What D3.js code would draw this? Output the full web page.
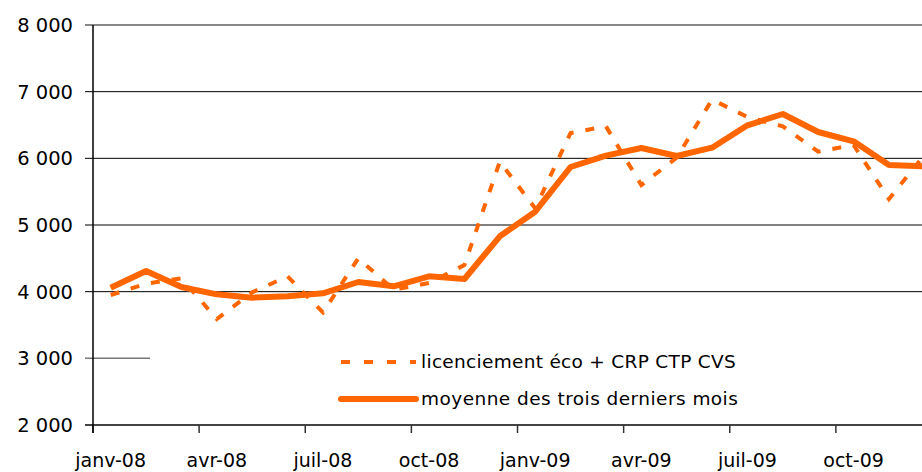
<!DOCTYPE html>
<html>
<head>
<meta charset="utf-8">
<script src="https://cdn.jsdelivr.net/npm/d3@7"></script>
<style>
  body { margin: 0; background: #fff; }
  svg { display: block; font-family: "DejaVu Sans", Verdana, sans-serif; }
</style>
</head>
<body>
<div id="chart"></div>
<script>
// months on the category axis
const months = [
  'janv-08', 'févr-08', 'mars-08', 'avr-08', 'mai-08', 'juin-08',
  'juil-08', 'août-08', 'sept-08', 'oct-08', 'nov-08', 'déc-08',
  'janv-09', 'févr-09', 'mars-09', 'avr-09', 'mai-09', 'juin-09',
  'juil-09', 'août-09', 'sept-09', 'oct-09', 'nov-09', 'déc-09'
];

// licenciement éco + CRP CTP CVS
const licenciement = [
  3950, 4120, 4200, 3590, 3990, 4230, 3690, 4500, 4030, 4130, 4400, 5950,
  5250, 6380, 6480, 5600, 6010, 6880, 6620, 6480, 6100, 6200, 5390, 6050
];

// moyenne des trois derniers mois
const moyenne = [
  4060, 4310, 4070, 3960, 3910, 3930, 3975, 4145, 4080, 4230, 4190, 4830,
  5200, 5870, 6040, 6155, 6035, 6160, 6495, 6665, 6395, 6255, 5900, 5880
];

const yTicks = [2000, 3000, 4000, 5000, 6000, 7000, 8000];
const legendLabels = ['licenciement éco + CRP CTP CVS', 'moyenne des trois derniers mois'];

const width = 922, height = 472;
const orange = '#ff6600';
const fmt = v => d3.format(',')(v).replace(',', ' ');

const svg = d3.select('#chart').append('svg')
  .attr('width', width)
  .attr('height', height);

// plot runs past the right edge of the picture (cropped like the original)
const x = d3.scaleBand().domain(months).range([93, 942]);
const y = d3.scaleLinear().domain([2000, 8000]).range([425, 25]);

const cx = m => x(m) + x.bandwidth() / 2;

// gridlines
svg.append('g').selectAll('line')
  .data(yTicks.filter(v => v > 2000))
  .enter().append('line')
  .attr('x1', 85)
  .attr('x2', width)
  .attr('y1', d => y(d))
  .attr('y2', d => y(d))
  .attr('stroke', d => d === 8000 ? '#888' : (d === 3000 ? '#777' : '#000'))
  .attr('stroke-width', d => d === 8000 ? 2 : (d === 3000 ? 1.5 : 1));

// y labels
svg.append('g').selectAll('text')
  .data(yTicks)
  .enter().append('text')
  .attr('x', 73)
  .attr('y', d => y(d))
  .attr('dy', '0.36em')
  .attr('text-anchor', 'end')
  .attr('font-size', 19.5)
  .attr('fill', '#000')
  .text(fmt);

// x axis line and ticks at quarter starts
const quarters = months.filter((m, i) => i % 3 === 0);
svg.append('line')
  .attr('x1', 85).attr('x2', width)
  .attr('y1', y(2000)).attr('y2', y(2000))
  .attr('stroke', '#444').attr('stroke-width', 2);
svg.append('g').selectAll('line')
  .data(quarters)
  .enter().append('line')
  .attr('x1', d => x(d)).attr('x2', d => x(d))
  .attr('y1', y(2000)).attr('y2', y(2000) + 8)
  .attr('stroke', '#333').attr('stroke-width', 1.5);

// y axis line
svg.append('line')
  .attr('x1', 93).attr('x2', 93)
  .attr('y1', y(8000)).attr('y2', y(2000) + 8)
  .attr('stroke', '#000').attr('stroke-width', 1.5);

// x labels centred on the quarter months
svg.append('g').selectAll('text')
  .data(quarters)
  .enter().append('text')
  .attr('x', d => cx(d))
  .attr('y', 467)
  .attr('text-anchor', 'middle')
  .attr('font-size', 19)
  .attr('fill', '#000')
  .text(d => d);

// legend box covers the 3000 gridline
svg.append('rect')
  .attr('x', 150).attr('y', 336)
  .attr('width', width - 150).attr('height', 80)
  .attr('fill', '#fff');

// series
const line = d3.line()
  .x((d, i) => cx(months[i]))
  .y(d => y(d));

svg.append('path')
  .datum(licenciement)
  .attr('d', line)
  .attr('fill', 'none')
  .attr('stroke', orange)
  .attr('stroke-width', 4)
  .attr('stroke-dasharray', '9,12');

svg.append('path')
  .datum(moyenne)
  .attr('d', line)
  .attr('fill', 'none')
  .attr('stroke', orange)
  .attr('stroke-width', 6)
  .attr('stroke-linejoin', 'round');

// legend
const legend = svg.append('g');
legend.append('line')
  .attr('x1', 341).attr('x2', 416)
  .attr('y1', 362).attr('y2', 362)
  .attr('stroke', orange).attr('stroke-width', 4)
  .attr('stroke-dasharray', '9,14');
legend.append('line')
  .attr('x1', 341).attr('x2', 416)
  .attr('y1', 399).attr('y2', 399)
  .attr('stroke', orange).attr('stroke-width', 6)
  .attr('stroke-linecap', 'round');
legend.selectAll('text')
  .data(legendLabels)
  .enter().append('text')
  .attr('x', 421)
  .attr('y', (d, i) => 368 + i * 37)
  .attr('font-size', 18.5)
  .attr('letter-spacing', (d, i) => i === 0 ? 0.3 : 0.45)
  .attr('fill', '#000')
  .text(d => d);
</script>
</body>
</html>
